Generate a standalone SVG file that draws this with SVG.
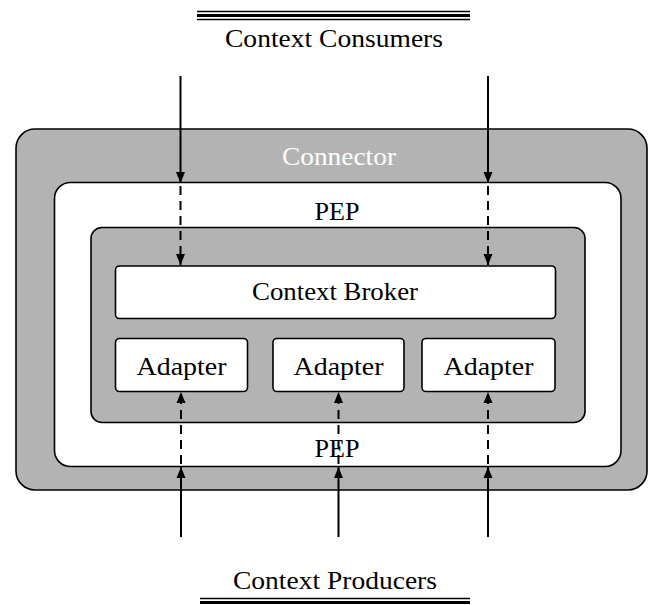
<svg xmlns="http://www.w3.org/2000/svg" width="648" height="605" viewBox="0 0 648 605">
  <style>
    .box { stroke: #000; stroke-width: 1.6; }
    .grey { fill: #b3b3b3; }
    .white { fill: #fff; }
    .lbl { font-family: "Liberation Serif", "Times New Roman", serif; font-size: 26px; fill: #000; text-anchor: middle; }
    .lbl-w { fill: #fff; }
    .solid { stroke: #000; stroke-width: 2; fill: none; }
    .dash { stroke: #000; stroke-width: 2; fill: none; stroke-dasharray: 9 6; stroke-dashoffset: -3; }
    .store { stroke: #000; fill: none; }
  </style>
  <defs>
    <marker id="arrow" markerUnits="userSpaceOnUse" markerWidth="11" markerHeight="12" viewBox="0 0 11 12" refX="11" refY="6" orient="auto">
      <path d="M0,1.5 L11,6 L0,10.5 Z" fill="#000"/>
    </marker>
  </defs>

  <!-- data store: consumers (top) -->
  <g id="consumers">
    <line class="store" x1="197" y1="11.5" x2="470" y2="11.5" stroke-width="1.5"/>
    <line class="store" x1="197" y1="15.5" x2="470" y2="15.5" stroke-width="3"/>
    <line class="store" x1="197" y1="19.5" x2="470" y2="19.5" stroke-width="1.5"/>
    <text class="lbl" x="334" y="47" textLength="218" lengthAdjust="spacingAndGlyphs">Context Consumers</text>
  </g>

  <!-- connector (outer grey frame) -->
  <g id="connector">
    <rect class="box grey" x="16" y="129" width="631" height="361" rx="19"/>
    <text class="lbl lbl-w" x="339" y="165" textLength="114" lengthAdjust="spacingAndGlyphs">Connector</text>
  </g>

  <!-- policy enforcement point -->
  <g id="pep">
    <rect class="box white" x="54.5" y="182.5" width="566.5" height="284" rx="16"/>
    <text class="lbl" x="337" y="220" textLength="45" lengthAdjust="spacingAndGlyphs">PEP</text>
    <text class="lbl" x="337" y="457" textLength="45" lengthAdjust="spacingAndGlyphs">PEP</text>
  </g>

  <!-- inner grey container -->
  <g id="core">
    <rect class="box grey" x="91" y="227.5" width="494" height="195" rx="11"/>
  </g>

  <g id="broker">
    <rect class="box white" x="115.5" y="266" width="440" height="52.5" rx="4"/>
    <text class="lbl" x="335" y="300" textLength="166" lengthAdjust="spacingAndGlyphs">Context Broker</text>
  </g>

  <g id="adapter1">
    <rect class="box white" x="115.5" y="338.5" width="132" height="53" rx="4"/>
    <text class="lbl" x="181.5" y="375" textLength="90" lengthAdjust="spacingAndGlyphs">Adapter</text>
  </g>
  <g id="adapter2">
    <rect class="box white" x="273" y="338.5" width="131" height="53" rx="4"/>
    <text class="lbl" x="338.5" y="375" textLength="90" lengthAdjust="spacingAndGlyphs">Adapter</text>
  </g>
  <g id="adapter3">
    <rect class="box white" x="422" y="338.5" width="133" height="53" rx="4"/>
    <text class="lbl" x="488.5" y="375" textLength="90" lengthAdjust="spacingAndGlyphs">Adapter</text>
  </g>

  <!-- data store: producers (bottom) -->
  <g id="producers">
    <text class="lbl" x="335" y="589" textLength="204" lengthAdjust="spacingAndGlyphs">Context Producers</text>
    <line class="store" x1="200" y1="598.5" x2="470" y2="598.5" stroke-width="1.5"/>
    <line class="store" x1="200" y1="602.5" x2="470" y2="602.5" stroke-width="3"/>
    <line class="store" x1="200" y1="606.5" x2="470" y2="606.5" stroke-width="1.5"/>
  </g>

  <!-- connectors -->
  <g id="connectors">
    <!-- consumers down into the broker -->
    <line class="solid" x1="180.5" y1="76" x2="180.5" y2="183" marker-end="url(#arrow)"/>
    <line class="dash" x1="180.5" y1="183" x2="180.5" y2="265" marker-end="url(#arrow)"/>
    <line class="solid" x1="488" y1="76" x2="488" y2="183" marker-end="url(#arrow)"/>
    <line class="dash" x1="488" y1="183" x2="488" y2="265" marker-end="url(#arrow)"/>
    <!-- producers up into the adapters -->
    <line class="solid" x1="181" y1="537" x2="181" y2="467" marker-end="url(#arrow)"/>
    <line class="dash" x1="181" y1="467" x2="181" y2="392" marker-end="url(#arrow)"/>
    <line class="solid" x1="338.5" y1="537" x2="338.5" y2="467" marker-end="url(#arrow)"/>
    <line class="dash" x1="338.5" y1="467" x2="338.5" y2="392" marker-end="url(#arrow)"/>
    <line class="solid" x1="488" y1="537" x2="488" y2="467" marker-end="url(#arrow)"/>
    <line class="dash" x1="488" y1="467" x2="488" y2="392" marker-end="url(#arrow)"/>
  </g>
</svg>
